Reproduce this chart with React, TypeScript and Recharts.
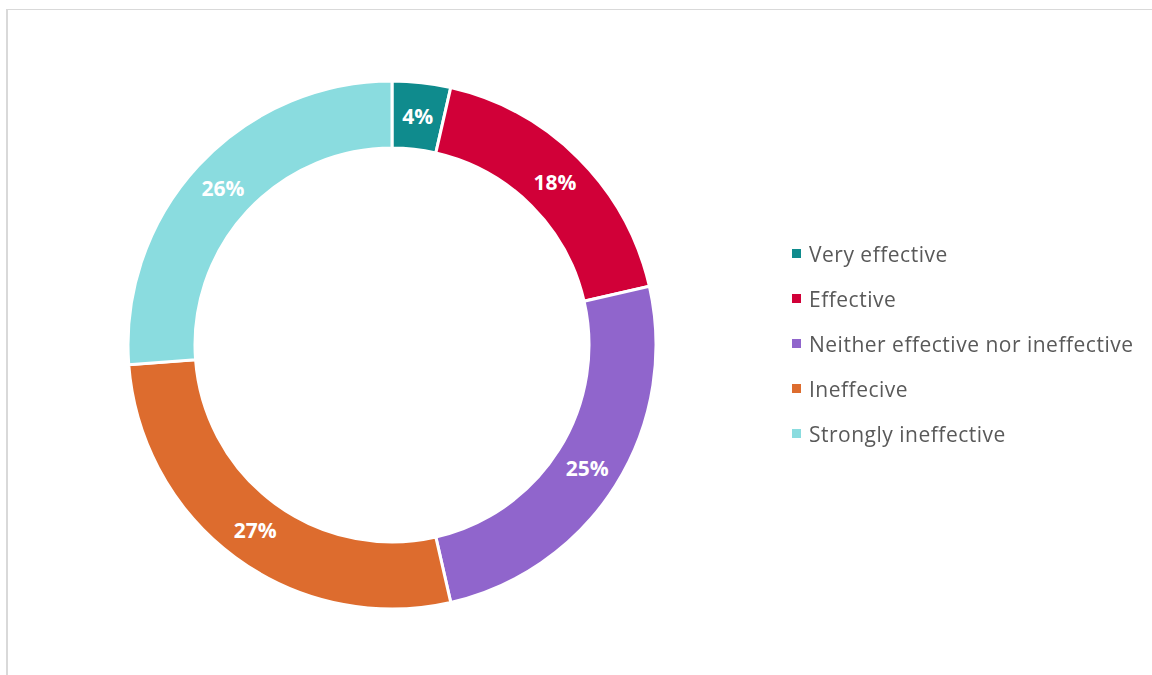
import React from 'react';
import { PieChart, Pie, Cell, Legend } from 'recharts';

const categories = ['Very effective', 'Effective', 'Neither effective nor ineffective', 'Ineffecive', 'Strongly ineffective'];
const responses = [3, 15, 21, 23, 22];
const colors = ['#0f8b8d', '#d10038', '#9065cc', '#dd6c2e', '#8adcdf'];

const data = categories.map((name, i) => ({ name, value: responses[i] }));

const RADIAN = Math.PI / 180;

const renderLabel = ({ cx, cy, midAngle, innerRadius, outerRadius, percent }: any) => {
  const r = (innerRadius + outerRadius) / 2;
  const x = cx + r * Math.cos(-midAngle * RADIAN);
  const y = cy + r * Math.sin(-midAngle * RADIAN);
  return (
    <text x={x} y={y} fill="#fff" textAnchor="middle" dominantBaseline="central"
      fontSize={21} fontWeight={700} fontFamily="'Open Sans', sans-serif">
      {`${Math.round(percent * 100)}%`}
    </text>
  );
};

const LegendList = () => (
  <div style={{ fontFamily: "'Open Sans', sans-serif", fontSize: 21, letterSpacing: 0.5, color: '#595959' }}>
    {categories.map((c, i) => (
      <div key={c} style={{ display: 'flex', alignItems: 'center', height: 45 }}>
        <span style={{ width: 9, height: 9, background: colors[i], marginRight: 8, display: 'inline-block', flexShrink: 0 }} />
        <span>{c}</span>
      </div>
    ))}
  </div>
);

export default function App() {
  return (
    <div style={{ position: 'fixed', left: 6, top: 9, width: 1200, height: 700, borderTop: '1px solid #d9d9d9', borderLeft: '2px solid #d9d9d9', background: '#fff' }}>
      <PieChart width={1200} height={700}>
        <Pie
          data={data}
          dataKey="value"
          nameKey="name"
          cx={379}
          cy={330}
          innerRadius={197}
          outerRadius={264}
          startAngle={90}
          endAngle={-270}
          stroke="#fff"
          strokeWidth={3}
          label={renderLabel}
          labelLine={false}
          isAnimationActive={false}
        >
          {data.map((d, i) => (
            <Cell key={d.name} fill={colors[i]} />
          ))}
        </Pie>
        <Legend content={<LegendList />} wrapperStyle={{ position: 'absolute', left: 784, top: 221, width: 420 }} />
      </PieChart>
    </div>
  );
}
